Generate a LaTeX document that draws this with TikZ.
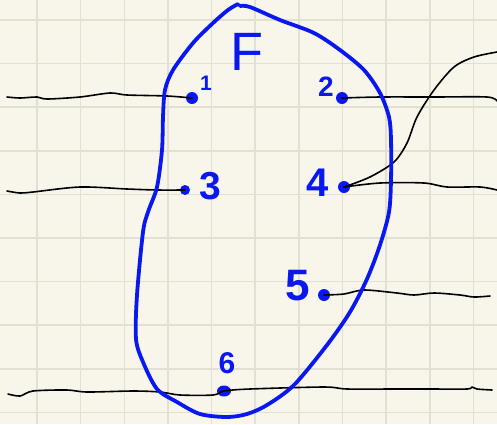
\documentclass[tikz,border=0pt]{standalone}
\usepackage{fontspec}
\setmainfont{Liberation Sans}
\usetikzlibrary{shapes.geometric}
\definecolor{paper}{RGB}{248,246,235}
\definecolor{gridline}{RGB}{226,224,211}
\definecolor{ink}{RGB}{8,24,238}
\begin{document}
\begin{tikzpicture}[x=1pt, y=-1pt,
  wire/.style={black, line width=1.6pt, line cap=round, line join=round},
  dot/.style={circle, fill=ink, inner sep=0pt, minimum size=#1},
  dot/.default=12pt,
  digit/.style={text=ink, font=\fontsize{#1pt}{#1pt}\selectfont\bfseries, inner sep=0pt}]
\fill[paper] (0,0) rectangle (497,424);
\useasboundingbox (0,0) rectangle (497,424);
\foreach \k in {0,...,10} {
  \draw[gridline, line width=1.6pt] (37+43.65*\k,0) -- (37+43.65*\k,424);
}
\foreach \k in {0,...,9} {
  \draw[gridline, line width=1.6pt] (0,20+43.6*\k) -- (497,20+43.6*\k);
}
\node[dot] (p1) at (192,98) {};
\node[dot] (p2) at (342,98) {};
\node[dot=10pt] (p3) at (185,190) {};
\node[dot] (p4) at (344,187) {};
\node[dot] (p5) at (324,295) {};
\node[dot, ellipse, minimum width=14pt, minimum height=11pt] (p6) at (224,391) {};
\coordinate (w1) at (7,97);
\coordinate (w2) at (497,101);
\coordinate (w3) at (7,191);
\coordinate (w4) at (497,190);
\coordinate (w5) at (497,52);
\coordinate (w6) at (490,296);
\coordinate (w7) at (8,394);
\coordinate (w8) at (492,390);
\draw[wire] plot[smooth] coordinates {(w1) (20,98) (37,97) (47,99) (80,97) (110,93) (127,95) (167,96) (p1)};
\draw[wire] plot[smooth] coordinates {(p2) (380,97) (434,97) (487,97) (w2)};
\draw[wire] plot[smooth] coordinates {(w3) (20,193) (33,192) (80,187) (127,189) (157,190) (p3)};
\draw[wire] plot[smooth] coordinates {(p4) (380,183) (424,183) (447,187) (480,187) (w4)};
\draw[wire] plot[smooth] coordinates {(p4) (370,177) (394,162) (407,143) (417,117) (434,90) (454,67) (474,57) (w5)};
\draw[wire] plot[smooth] coordinates {(p5) (344,294) (364,290) (397,293) (414,295) (434,293) (460,295) (474,297) (w6)};
\draw[wire] plot[smooth] coordinates {(w7) (20,396) (33,391) (67,390) (87,392) (133,391) (160,392) (180,395) (213,395) (p6) (250,389) (324,387) (347,389) (394,389) (430,389) (467,389) (472,387) (477,389) (w8)};
\draw[ink, line width=3.8pt, line cap=round, line join=round] plot[smooth] coordinates {
  (240,6) (250,7) (280,20) (314,33) (340,50) (364,70) (380,93) (389,117) (391,140) (391,180)
  (389,212) (380,245) (367,279) (350,312) (327,345) (294,385) (267,405) (247,414) (227,417)
  (200,414) (177,402) (157,389) (143,362) (136,339) (137,295) (143,232) (148,212) (157,187)
  (162,150) (163,117) (165,90) (173,70) (193,43) (213,23) (228,10) (238,4)};
\node[text=ink, font=\fontsize{54pt}{54pt}\selectfont, inner sep=0pt] (lblF) at (247,52) {F};
\node[digit=21] (n1) at (206,83) {1};
\node[digit=28] (n2) at (326,87) {2};
\node[digit=39] (n3) at (210,186) {3};
\node[digit=40] (n4) at (318,183) {4};
\node[digit=44] (n5) at (298,286) {5};
\node[digit=30] (n6) at (227,363) {6};
\end{tikzpicture}
\end{document}
